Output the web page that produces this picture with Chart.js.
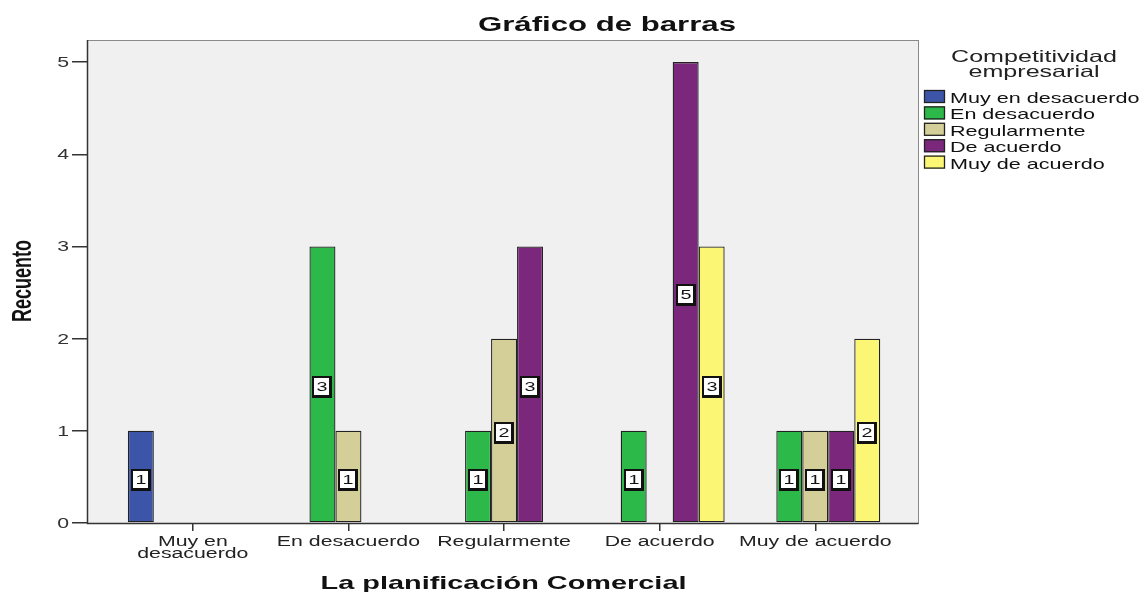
<!DOCTYPE html>
<html>
<head>
<meta charset="utf-8">
<script src="https://cdn.jsdelivr.net/npm/chart.js@4.4.0/dist/chart.umd.min.js"></script>
<style>
    html, body { margin: 0; padding: 0; background: #ffffff; }
    #wrap { width: 1143px; height: 592px; }
</style>
</head>
<body>
<div id="wrap"><canvas id="bar-chart" width="1143" height="592"></canvas></div>
<script>
/* data */
const categories = ["Muy en desacuerdo", "En desacuerdo", "Regularmente", "De acuerdo", "Muy de acuerdo"];
const categoryLabels = [["Muy en", "desacuerdo"], ["En desacuerdo"], ["Regularmente"], ["De acuerdo"], ["Muy de acuerdo"]];

const seriesNames = ["Muy en desacuerdo", "En desacuerdo", "Regularmente", "De acuerdo", "Muy de acuerdo"];
const muyEnDesacuerdo = [1, 0, 0, 0, 0];
const enDesacuerdo = [0, 3, 1, 1, 1];
const regularmente = [0, 1, 2, 0, 1];
const deAcuerdo = [0, 0, 3, 5, 1];
const muyDeAcuerdo = [0, 0, 0, 3, 2];
const seriesValues = [muyEnDesacuerdo, enDesacuerdo, regularmente, deAcuerdo, muyDeAcuerdo];

const yTicks = [0, 1, 2, 3, 4, 5];

const colors = ["#3d55a8", "#2db84a", "#d4cf98", "#7a277c", "#fbf774"];

const FONT = "'Liberation Sans', Arial, sans-serif";
const STRETCH = 1.52; // the original picture is pulled wide, text too

// zero counts get no bar (slot is still kept)
const datasets = seriesNames.map((name, i) => ({
    label: name,
    data: seriesValues[i].map((v, idx) => ({ x: idx, y: v === 0 ? null : v })),
    backgroundColor: colors[i],
    borderColor: "#222222",
    borderWidth: 1.3,
    borderSkipped: false,
    categoryPercentage: 0.835,
    barPercentage: 1
}));

// text pulled wide like the picture
function wideText(ctx, text, x, y, font, align) {
    ctx.save();
    ctx.font = font;
    ctx.textAlign = align || "center";
    ctx.translate(x, y);
    ctx.scale(STRETCH, 1);
    ctx.fillText(text, 0, 0);
    ctx.restore();
}

/*
    plot background + frame
*/
const plotFrame = {
    id: "plotFrame",
    beforeDraw(chart) {
        const { ctx, chartArea: a } = chart;
        ctx.save();
        ctx.fillStyle = "#f0f0f0";
        ctx.fillRect(a.left, a.top, a.right - a.left, a.bottom - a.top);
        ctx.restore();
    },
    afterDatasetsDraw(chart) {
        const { ctx, chartArea: a } = chart;
        ctx.save();
        ctx.lineWidth = 1;
        ctx.strokeStyle = "#8a8a8a";
        ctx.strokeRect(a.left + 0.5, a.top + 0.5, a.right - a.left, a.bottom - a.top);
        ctx.strokeStyle = "#333333";
        ctx.lineWidth = 1.5;
        ctx.beginPath();
        ctx.moveTo(a.left + 0.5, a.top);
        ctx.lineTo(a.left + 0.5, a.bottom + 0.5);
        ctx.lineTo(a.right + 0.5, a.bottom + 0.5);
        ctx.stroke();
        ctx.restore();
    }
};

/*
    value boxes in the middle of each bar
*/
const valueBoxes = {
    id: "valueBoxes",
    afterDatasetsDraw(chart) {
        const ctx = chart.ctx;
        ctx.save();
        ctx.textBaseline = "middle";
        chart.data.datasets.forEach((ds, di) => {
            const meta = chart.getDatasetMeta(di);
            meta.data.forEach((bar, idx) => {
                const v = seriesValues[di][idx];
                if (!v) return;
                const cx = Math.round(bar.x);
                const cy = Math.round((bar.y + bar.base) / 2) + 3;
                const w = 18, h = 20;
                ctx.fillStyle = "#111111";
                ctx.fillRect(cx - w / 2 - 1, cy - h / 2 - 1, w + 2, h + 2);
                ctx.fillStyle = "#ffffff";
                ctx.fillRect(cx - w / 2 + 1, cy - h / 2 + 1, w - 3, h - 3);
                ctx.fillStyle = "#111111";
                wideText(ctx, String(v), cx, cy, "13px " + FONT);
            });
        });
        ctx.restore();
    }
};

/*
    tick labels, titles and legend drawn by hand
*/
const chartTexts = {
    id: "chartTexts",
    afterDraw(chart) {
        const { ctx, chartArea: a } = chart;
        const xScale = chart.scales.x;
        const yScale = chart.scales.y;
        ctx.save();
        ctx.textBaseline = "alphabetic";

        // y tick labels
        ctx.fillStyle = "#333333";
        yTicks.forEach(v => {
            wideText(ctx, String(v), 69, yScale.getPixelForValue(v) + 5, "14px " + FONT, "right");
        });

        // x tick labels
        ctx.fillStyle = "#222222";
        categoryLabels.forEach((lines, i) => {
            const x = xScale.getPixelForValue(i);
            lines.forEach((line, li) => {
                wideText(ctx, line, x, 546 + li * 12, "14px " + FONT);
            });
        });

        // main title
        ctx.fillStyle = "#111111";
        wideText(ctx, "Gráfico de barras", 607, 31, "bold 20.5px " + FONT);

        // x title
        wideText(ctx, "La planificación Comercial", (a.left + a.right) / 2 + 1, 589, "bold 19px " + FONT);

        // y title (stretch goes across the rotated text)
        ctx.save();
        ctx.translate(23, 281);
        ctx.scale(STRETCH, 1);
        ctx.rotate(-Math.PI / 2);
        ctx.font = "bold 18px " + FONT;
        ctx.textAlign = "center";
        ctx.textBaseline = "middle";
        ctx.fillText("Recuento", 0, 0);
        ctx.restore();

        // legend
        ctx.fillStyle = "#222222";
        wideText(ctx, "Competitividad", 1034, 62, "16.5px " + FONT);
        wideText(ctx, "empresarial", 1034, 77, "16.5px " + FONT);

        seriesNames.forEach((name, i) => {
            const y = 90 + i * 16.4;
            ctx.fillStyle = colors[i];
            ctx.fillRect(924, y, 21, 13);
            ctx.strokeStyle = "#222222";
            ctx.lineWidth = 1.3;
            ctx.strokeRect(924.5, y + 0.5, 20, 12);
            ctx.fillStyle = "#111111";
            wideText(ctx, name, 950, y + 13, "14.2px " + FONT, "left");
        });
        ctx.restore();
    }
};

const barChart = new Chart(document.getElementById("bar-chart"), {
    type: "bar",
    data: { datasets: datasets },
    options: {
        responsive: false,
        animation: false,
        layout: { padding: { left: 30, right: 225, top: 40, bottom: 0 } },
        plugins: {
            legend: { display: false },
            title: { display: false },
            tooltip: { enabled: false }
        },
        scales: {
            x: {
                type: "linear",
                offset: false,
                min: -0.68,
                max: 4.66,
                afterBuildTicks(scale) {
                    scale.ticks = categories.map((c, i) => ({ value: i }));
                },
                afterFit(scale) { scale.height = 69; },
                border: { display: false },
                grid: {
                    offset: false,
                    drawOnChartArea: false,
                    drawTicks: true,
                    tickLength: 8,
                    lineWidth: 1.5,
                    color: "#333333"
                },
                ticks: { display: false }
            },
            y: {
                min: 0,
                max: 5.24,
                afterBuildTicks(scale) {
                    scale.ticks = yTicks.map(v => ({ value: v }));
                },
                afterFit(scale) { scale.width = 57; },
                border: { display: false },
                grid: {
                    drawOnChartArea: false,
                    drawTicks: true,
                    tickLength: 15,
                    lineWidth: 1.5,
                    color: "#333333"
                },
                ticks: { display: false }
            }
        }
    },
    plugins: [plotFrame, valueBoxes, chartTexts]
});
</script>
</body>
</html>
